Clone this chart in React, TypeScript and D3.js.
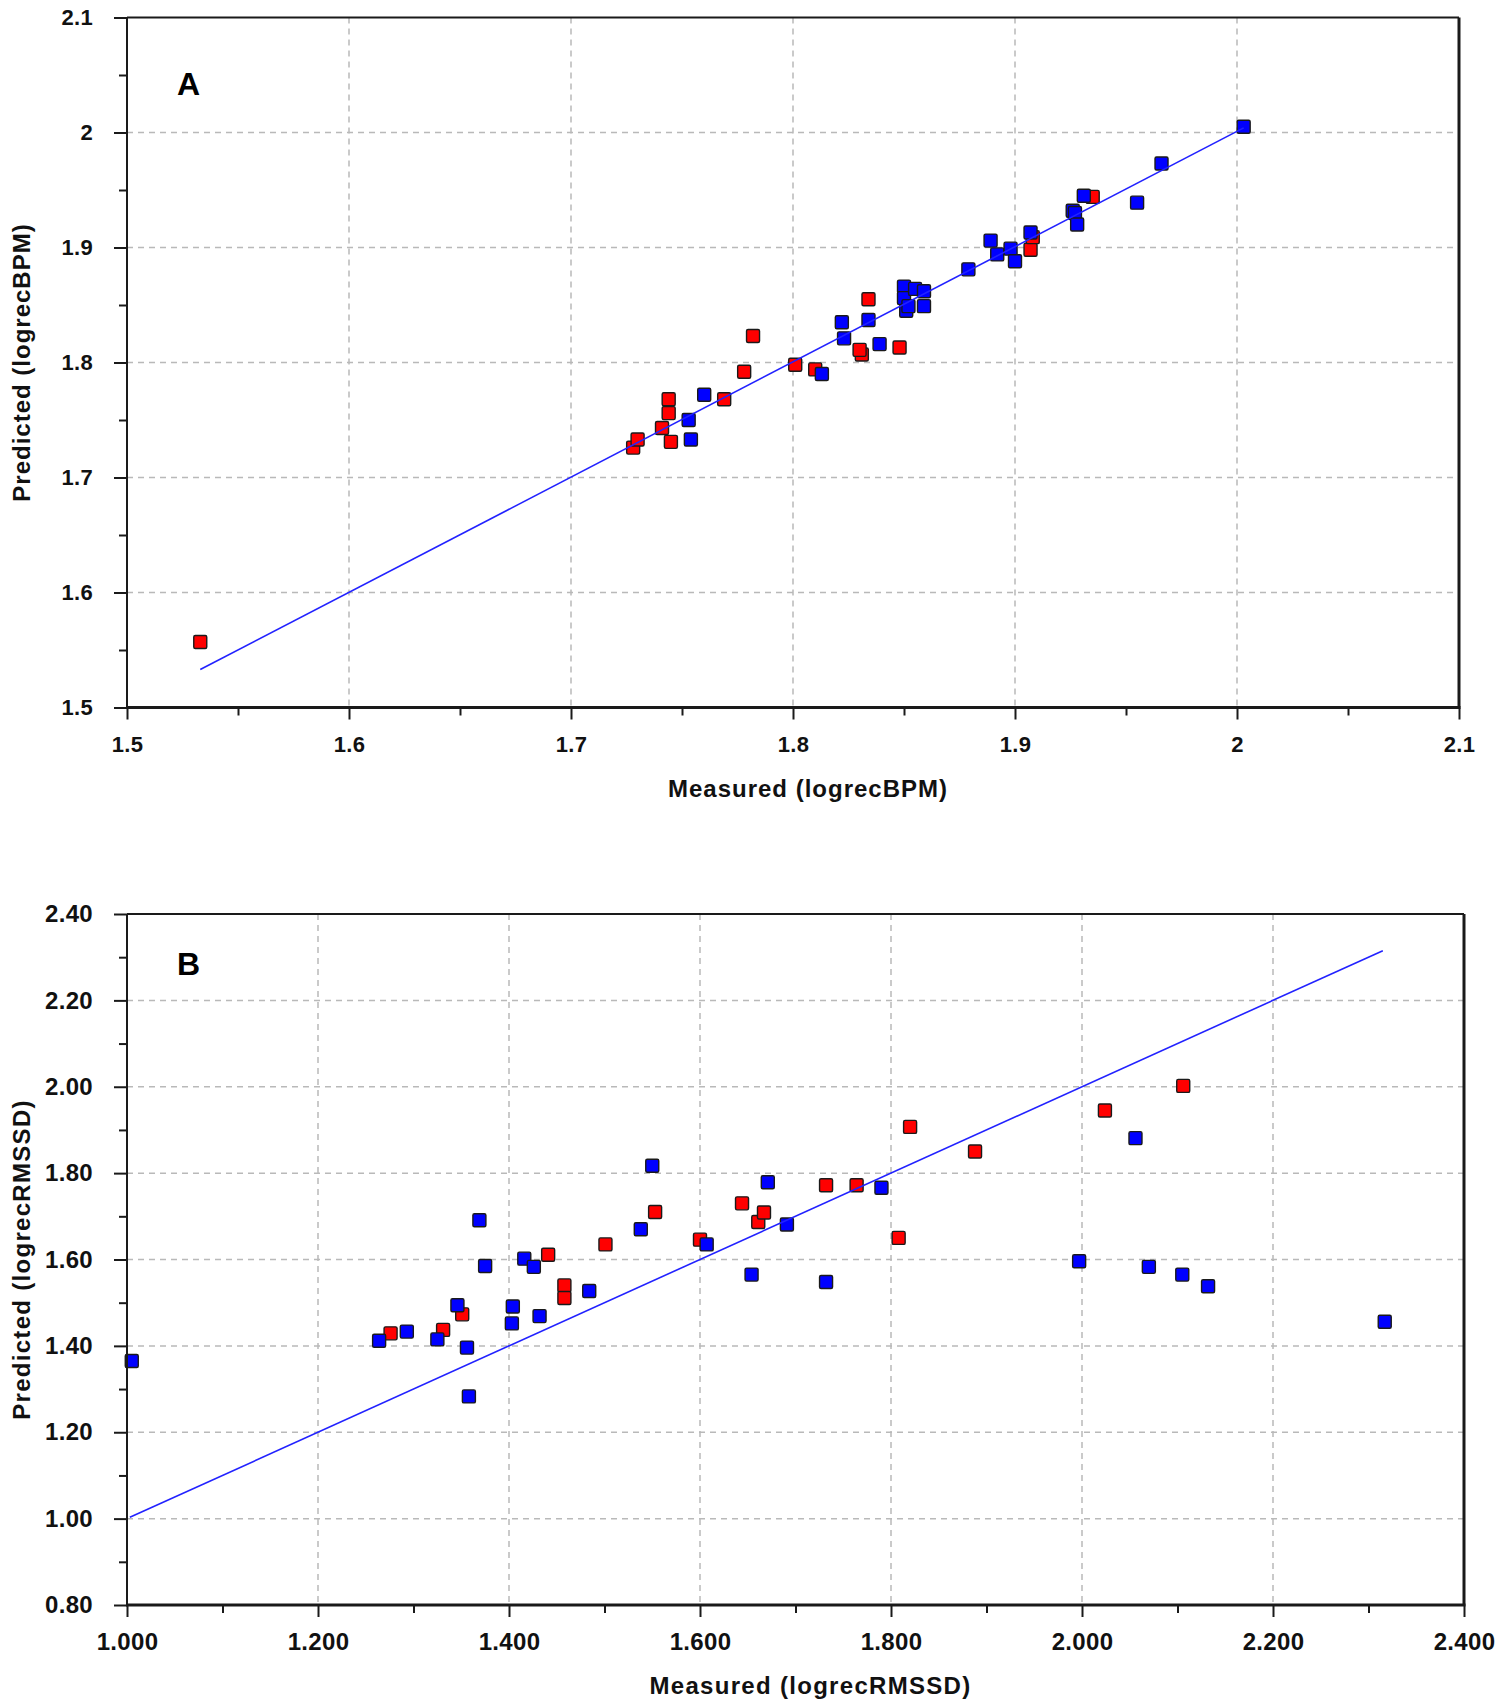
import { useEffect, useRef } from "react";
import * as d3 from "d3";

type Pt = [number, number]; // [measured, predicted]

// ---- Panel A : logrecBPM ----
const bpmTicks = [1.5, 1.6, 1.7, 1.8, 1.9, 2.0, 2.1];
const bpmMinorTicks = [1.55, 1.65, 1.75, 1.85, 1.95, 2.05];

const bpmRed: Pt[] = [
  [1.533, 1.557],
  [1.728, 1.726],
  [1.73, 1.733],
  [1.741, 1.743],
  [1.744, 1.756],
  [1.744, 1.768],
  [1.745, 1.731],
  [1.769, 1.768],
  [1.778, 1.792],
  [1.782, 1.823],
  [1.801, 1.798],
  [1.81, 1.794],
  [1.831, 1.807],
  [1.83, 1.811],
  [1.834, 1.855],
  [1.848, 1.813],
  [1.907, 1.898],
  [1.908, 1.909],
  [1.935, 1.944],
];

const bpmBlue: Pt[] = [
  [1.753, 1.75],
  [1.754, 1.733],
  [1.76, 1.772],
  [1.813, 1.79],
  [1.822, 1.835],
  [1.823, 1.821],
  [1.834, 1.837],
  [1.839, 1.816],
  [1.85, 1.866],
  [1.85, 1.856],
  [1.855, 1.864],
  [1.859, 1.862],
  [1.851, 1.845],
  [1.852, 1.849],
  [1.859, 1.849],
  [1.879, 1.881],
  [1.889, 1.906],
  [1.892, 1.894],
  [1.898, 1.899],
  [1.9, 1.888],
  [1.907, 1.913],
  [1.926, 1.932],
  [1.927, 1.93],
  [1.928, 1.92],
  [1.931, 1.945],
  [1.955, 1.939],
  [1.966, 1.973],
  [2.003, 2.005],
];

const bpmFit: Pt[] = [
  [1.533, 1.533],
  [2.003, 2.004],
];

// ---- Panel B : logrecRMSSD ----
const rmssdXTicks = [1.0, 1.2, 1.4, 1.6, 1.8, 2.0, 2.2, 2.4];
const rmssdXMinor = [1.1, 1.3, 1.5, 1.7, 1.9, 2.1, 2.3];
const rmssdYTicks = [0.8, 1.0, 1.2, 1.4, 1.6, 1.8, 2.0, 2.2, 2.4];
const rmssdYMinor = [0.9, 1.1, 1.3, 1.5, 1.7, 1.9, 2.1, 2.3];

const rmssdRed: Pt[] = [
  [1.276, 1.429],
  [1.331, 1.437],
  [1.351, 1.473],
  [1.441, 1.611],
  [1.458, 1.54],
  [1.458, 1.511],
  [1.501, 1.635],
  [1.553, 1.71],
  [1.6, 1.646],
  [1.644, 1.73],
  [1.661, 1.687],
  [1.667, 1.709],
  [1.732, 1.772],
  [1.764, 1.772],
  [1.808, 1.65],
  [1.82, 1.907],
  [1.888, 1.85],
  [2.024, 1.945],
  [2.106, 2.002],
];

const rmssdBlue: Pt[] = [
  [1.005, 1.365],
  [1.264, 1.412],
  [1.293, 1.433],
  [1.325, 1.415],
  [1.346, 1.494],
  [1.356, 1.396],
  [1.358, 1.283],
  [1.369, 1.691],
  [1.375, 1.585],
  [1.403, 1.452],
  [1.404, 1.491],
  [1.416, 1.602],
  [1.426, 1.583],
  [1.432, 1.469],
  [1.484, 1.527],
  [1.538, 1.67],
  [1.55, 1.817],
  [1.607, 1.635],
  [1.654, 1.565],
  [1.671, 1.779],
  [1.691, 1.681],
  [1.732, 1.548],
  [1.79, 1.766],
  [1.997, 1.596],
  [2.056, 1.881],
  [2.07, 1.583],
  [2.105, 1.565],
  [2.132, 1.538],
  [2.317, 1.456],
];

const rmssdFit: Pt[] = [
  [1.003, 1.003],
  [2.315, 2.315],
];

const FONT = "'Liberation Sans', Arial, sans-serif";

interface IPanel {
  left: number;
  right: number;
  top: number;
  bottom: number;
  xTicks: number[];
  yTicks: number[];
  xMinor: number[];
  yMinor: number[];
  xFormat: (d: number) => string;
  yFormat: (d: number) => string;
  red: Pt[];
  blue: Pt[];
  fit: Pt[];
  letter: string;
  letterY: number;
  xTitle: string;
  yTitle: string;
  tickFont: number;
  titleSpacing: number;
}

const ScatterPanel = ({
  left,
  right,
  top,
  bottom,
  xTicks,
  yTicks,
  xMinor,
  yMinor,
  xFormat,
  yFormat,
  red,
  blue,
  fit,
  letter,
  letterY,
  xTitle,
  yTitle,
  tickFont,
  titleSpacing,
}: IPanel) => {
  const gRef = useRef<SVGGElement | null>(null);

  useEffect(() => {
    const g = d3.select(gRef.current);
    g.selectAll("*").remove();

    const x = d3
      .scaleLinear()
      .domain([xTicks[0], xTicks[xTicks.length - 1]])
      .range([left, right]);
    const y = d3
      .scaleLinear()
      .domain([yTicks[0], yTicks[yTicks.length - 1]])
      .range([bottom, top]);

    // dashed grid
    const grid = g
      .append("g")
      .attr("stroke", "#b9b9b9")
      .attr("stroke-width", 1.5)
      .attr("stroke-dasharray", "6,5");
    grid
      .selectAll("line.v")
      .data(xTicks.slice(1, -1))
      .join("line")
      .attr("x1", (d) => x(d))
      .attr("x2", (d) => x(d))
      .attr("y1", top)
      .attr("y2", bottom);
    grid
      .selectAll("line.h")
      .data(yTicks.slice(1, -1))
      .join("line")
      .attr("class", "h")
      .attr("x1", left)
      .attr("x2", right)
      .attr("y1", (d) => y(d))
      .attr("y2", (d) => y(d));

    // markers
    const size = 13;
    const drawPts = (pts: Pt[], fill: string) =>
      g
        .append("g")
        .selectAll("rect")
        .data(pts)
        .join("rect")
        .attr("x", (d) => x(d[0]) - size / 2)
        .attr("y", (d) => y(d[1]) - size / 2)
        .attr("width", size)
        .attr("height", size)
        .attr("rx", 1.5)
        .attr("fill", fill)
        .attr("stroke", "#1a1a1a")
        .attr("stroke-width", 1.4);
    drawPts(red, "#ff0000");
    drawPts(blue, "#0000ff");

    // fitted line
    g.append("path")
      .datum(fit)
      .attr("fill", "none")
      .attr("stroke", "#2222ff")
      .attr("stroke-width", 1.6)
      .attr(
        "d",
        d3
          .line<Pt>()
          .x((d) => x(d[0]))
          .y((d) => y(d[1])),
      );

    // frame
    const frame = g.append("g").attr("stroke", "#1a1a1a");
    frame
      .append("line")
      .attr("x1", left)
      .attr("x2", right)
      .attr("y1", top)
      .attr("y2", top)
      .attr("stroke-width", 2);
    frame
      .append("line")
      .attr("x1", right)
      .attr("x2", right)
      .attr("y1", top)
      .attr("y2", bottom)
      .attr("stroke-width", 3);
    frame
      .append("line")
      .attr("x1", left)
      .attr("x2", left)
      .attr("y1", top)
      .attr("y2", bottom)
      .attr("stroke-width", 2);
    frame
      .append("line")
      .attr("x1", left - 1)
      .attr("x2", right + 1.5)
      .attr("y1", bottom)
      .attr("y2", bottom)
      .attr("stroke-width", 3);

    const styleAxis = (sel: d3.Selection<SVGGElement, unknown, null, undefined>) => {
      sel.select(".domain").remove();
      sel.selectAll(".tick line").attr("stroke", "#1a1a1a").attr("stroke-width", 2);
      sel
        .selectAll("text")
        .attr("fill", "#111")
        .attr("font-family", FONT)
        .attr("font-weight", "bold")
        .attr("font-size", tickFont)
        .attr("letter-spacing", 0.3);
    };

    // x axis
    g.append("g")
      .attr("transform", `translate(0,${bottom})`)
      .call(
        d3
          .axisBottom(x)
          .tickValues(xTicks)
          .tickFormat((d) => xFormat(+d))
          .tickSize(12)
          .tickPadding(45 - 12 - tickFont * 0.72),
      )
      .call(styleAxis);
    g.append("g")
      .attr("transform", `translate(0,${bottom})`)
      .call(d3.axisBottom(x).tickValues(xMinor).tickFormat(() => "").tickSize(8))
      .call(styleAxis);

    // y axis
    g.append("g")
      .attr("transform", `translate(${left},0)`)
      .call(
        d3
          .axisLeft(y)
          .tickValues(yTicks)
          .tickFormat((d) => yFormat(+d))
          .tickSize(13)
          .tickPadding(21),
      )
      .call(styleAxis);
    g.append("g")
      .attr("transform", `translate(${left},0)`)
      .call(d3.axisLeft(y).tickValues(yMinor).tickFormat(() => "").tickSize(8))
      .call(styleAxis);

    // panel letter
    g.append("text")
      .attr("x", left + 50)
      .attr("y", top + letterY)
      .attr("font-family", FONT)
      .attr("font-weight", "bold")
      .attr("font-size", 32)
      .attr("fill", "#000")
      .text(letter);

    // axis titles
    g.append("text")
      .attr("x", (left + right) / 2 + 15)
      .attr("y", bottom + 89)
      .attr("text-anchor", "middle")
      .attr("font-family", FONT)
      .attr("font-weight", "bold")
      .attr("font-size", 24)
      .attr("letter-spacing", titleSpacing)
      .attr("fill", "#111")
      .text(xTitle);

    g.append("text")
      .attr("transform", `translate(30,${(top + bottom) / 2}) rotate(-90)`)
      .attr("text-anchor", "middle")
      .attr("font-family", FONT)
      .attr("font-weight", "bold")
      .attr("font-size", 24)
      .attr("letter-spacing", titleSpacing)
      .attr("fill", "#111")
      .text(yTitle);
  }, [left, right, top, bottom, xTicks, yTicks, xMinor, yMinor, red, blue, fit, letter, letterY, xTitle, yTitle, tickFont, titleSpacing, xFormat, yFormat]);

  return <g ref={gRef} />;
};

const fmtShort = (d: number) => String(+d.toFixed(2));
const fmt3 = d3.format(".3f");
const fmt2 = d3.format(".2f");

export default function App() {
  return (
    <svg
      width={1500}
      height={1705}
      style={{ position: "absolute", left: 0, top: 0, background: "white" }}
    >
      <ScatterPanel
        left={127}
        right={1459}
        top={17.5}
        bottom={707.5}
        xTicks={bpmTicks}
        yTicks={bpmTicks}
        xMinor={bpmMinorTicks}
        yMinor={bpmMinorTicks}
        xFormat={fmtShort}
        yFormat={fmtShort}
        red={bpmRed}
        blue={bpmBlue}
        fit={bpmFit}
        letter="A"
        letterY={77.5}
        xTitle="Measured (logrecBPM)"
        yTitle="Predicted (logrecBPM)"
        tickFont={22}
        titleSpacing={1}
      />
      <ScatterPanel
        left={127}
        right={1464}
        top={914}
        bottom={1605}
        xTicks={rmssdXTicks}
        yTicks={rmssdYTicks}
        xMinor={rmssdXMinor}
        yMinor={rmssdYMinor}
        xFormat={fmt3}
        yFormat={fmt2}
        red={rmssdRed}
        blue={rmssdBlue}
        fit={rmssdFit}
        letter="B"
        letterY={61}
        xTitle="Measured (logrecRMSSD)"
        yTitle="Predicted (logrecRMSSD)"
        tickFont={24}
        titleSpacing={1.3}
      />
    </svg>
  );
}
